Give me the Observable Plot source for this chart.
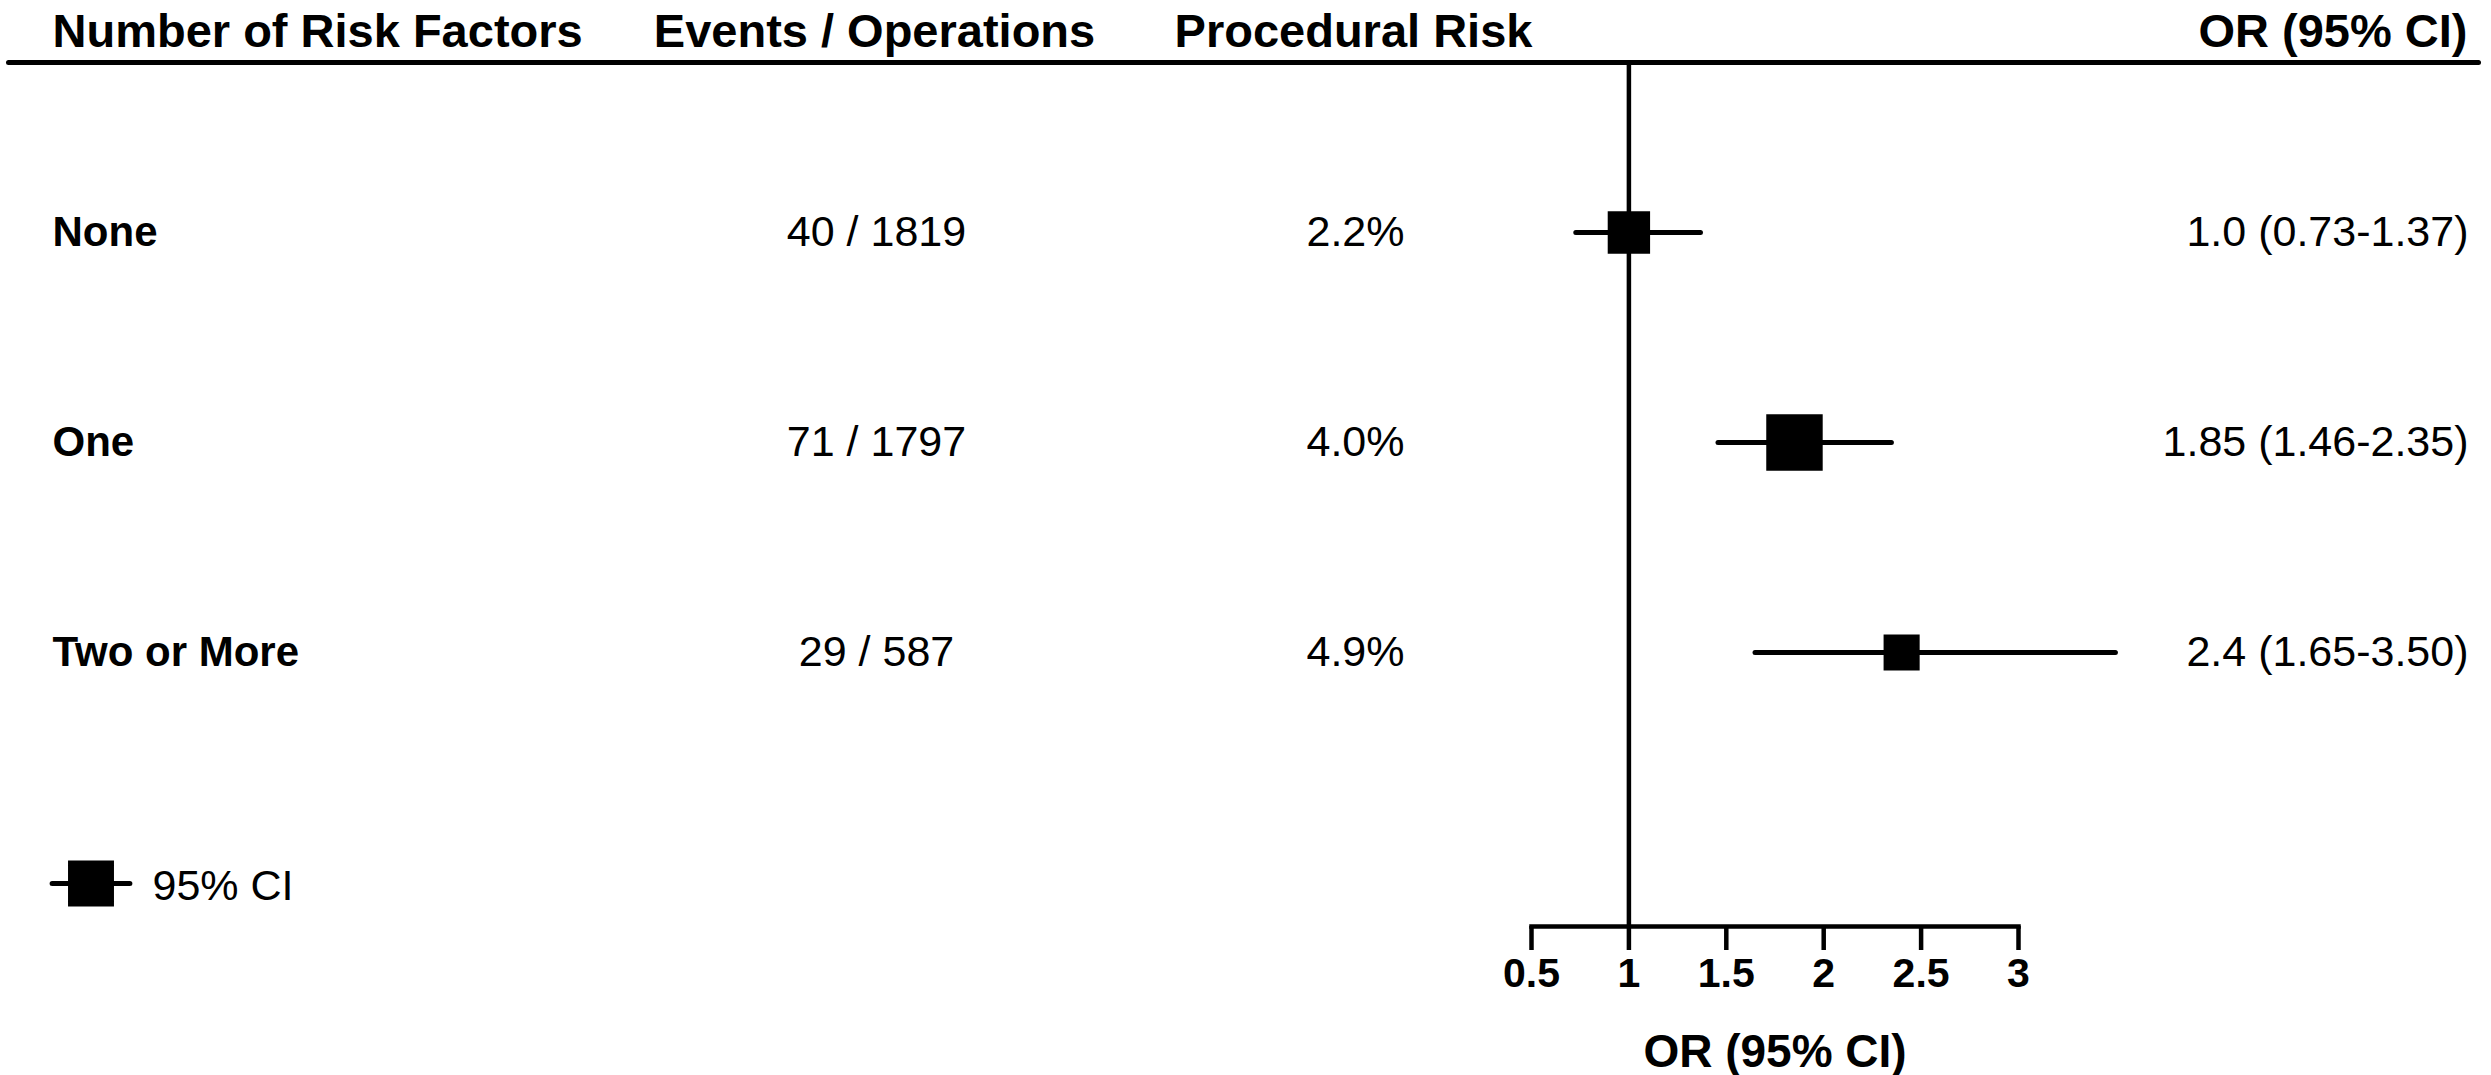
<!DOCTYPE html>
<html>
<head>
<meta charset="utf-8">
<script src="https://cdn.jsdelivr.net/npm/d3@7"></script>
<script src="https://cdn.jsdelivr.net/npm/@observablehq/plot@0.6"></script>
<style>
  html, body { margin: 0; padding: 0; background: #fff; }
  #chart { width: 2491px; height: 1075px; }
</style>
</head>
<body>
<div id="chart"></div>
<script>
// ---- data ----
const categories = ["None", "One", "Two or More"];
const events = [40, 71, 29];
const operations = [1819, 1797, 587];
const oddsRatio = [1.0, 1.85, 2.4];
const ciLow = [0.73, 1.46, 1.65];
const ciHigh = [1.37, 2.35, 3.50];
const orLabels = ["1.0 (0.73-1.37)", "1.85 (1.46-2.35)", "2.4 (1.65-3.50)"];
const headers = ["Number of Risk Factors", "Events / Operations", "Procedural Risk", "OR (95% CI)"];
const xTicks = [0.5, 1, 1.5, 2, 2.5, 3];
const axisTitle = "OR (95% CI)";
const legendLabel = "95% CI";

// ---- table built from arrays ----
const rows = categories.map((cat, i) => ({
  cat,
  events: events[i],
  ops: operations[i],
  or: oddsRatio[i],
  lo: ciLow[i],
  hi: ciHigh[i],
  orLabel: orLabels[i]
}));

// ---- layout ----
const W = 2491, H = 1075;
const mLeft = 8, mRight = 13, mTop = 62, mBottom = 149;
const xRange = [1531, 2018];
const font = "'Liberation Sans', Arial, Helvetica, sans-serif";

// legend glyph: square with a CI whisker through it
const ciSymbol = {
  draw(context, size) {
    const w = Math.sqrt(size), h = w / 2;
    context.moveTo(-h, -h); context.lineTo(h, -h); context.lineTo(h, h); context.lineTo(-h, h); context.closePath();
    context.moveTo(-w * 0.95, 0); context.lineTo(w * 0.95, 0);
  }
};

const chart = Plot.plot({
  width: W,
  height: H,
  marginLeft: mLeft,
  marginRight: mRight,
  marginTop: mTop,
  marginBottom: mBottom,
  style: { fontFamily: font, fontSize: "43px", color: "black", background: "white", overflow: "visible" },
  x: { domain: [xTicks[0], xTicks[xTicks.length - 1]], range: xRange },
  y: { type: "point", domain: categories, range: [231, 652], padding: 0, axis: null },
  r: { type: "sqrt", domain: [0, d3.max(events)], range: [0, 3.78 * Math.sqrt(d3.max(events))] },
  marks: [
    // header rule and axis line
    Plot.frame({ anchor: "top", strokeWidth: 5, strokeLinecap: "round" }),
    Plot.frame({ anchor: "bottom", strokeWidth: 4.5, insetLeft: xRange[0] - mLeft, insetRight: (W - mRight) - xRange[1] }),
    // headers
    Plot.text([headers[0]], { text: d => d, frameAnchor: "top-left", dx: 44, dy: -16, lineAnchor: "bottom", textAnchor: "start", fontSize: 47, fontWeight: "bold" }),
    Plot.text([headers[1]], { text: d => d, frameAnchor: "top-left", dx: 866, dy: -16, lineAnchor: "bottom", textAnchor: "middle", fontSize: 47, fontWeight: "bold" }),
    Plot.text([headers[2]], { text: d => d, frameAnchor: "top-left", dx: 1345, dy: -16, lineAnchor: "bottom", textAnchor: "middle", fontSize: 47, fontWeight: "bold" }),
    Plot.text([headers[3]], { text: d => d, frameAnchor: "top-right", dx: -11, dy: -16, lineAnchor: "bottom", textAnchor: "end", fontSize: 47, fontWeight: "bold" }),
    // row text columns
    Plot.text(rows, { y: "cat", text: "cat", frameAnchor: "left", dx: 44, textAnchor: "start", lineAnchor: "middle", fontSize: 42, fontWeight: "bold" }),
    Plot.text(rows, { y: "cat", text: d => `${d.events} / ${d.ops}`, frameAnchor: "left", dx: 868, textAnchor: "middle", lineAnchor: "middle", fontSize: 43 }),
    Plot.text(rows, { y: "cat", text: d => `${(d.events / d.ops * 100).toFixed(1)}%`, frameAnchor: "left", dx: 1347, textAnchor: "middle", lineAnchor: "middle", fontSize: 43 }),
    Plot.text(rows, { y: "cat", text: "orLabel", frameAnchor: "right", dx: -10, textAnchor: "end", lineAnchor: "middle", fontSize: 43 }),
    // confidence intervals
    Plot.ruleY(rows, { y: "cat", x1: "lo", x2: "hi", strokeWidth: 5, strokeLinecap: "round" }),
    // reference line at OR = 1
    Plot.ruleX([1], { strokeWidth: 4.5 }),
    // point estimates
    Plot.dot(rows, { x: "or", y: "cat", r: "events", symbol: "square", fill: "black" }),
    // x axis
    Plot.axisX({ ticks: xTicks, tickFormat: d => `${d}`, tickSize: 24, tickPadding: 7, strokeWidth: 4.5, fontSize: 41, fontWeight: "bold", label: null, anchor: "bottom" }),
    Plot.text([axisTitle], { x: () => (xTicks[0] + xTicks[xTicks.length - 1]) / 2, text: d => d, frameAnchor: "bottom", dy: 140, lineAnchor: "bottom", textAnchor: "middle", fontSize: 46, fontWeight: "bold" }),
    // legend
    Plot.dot([legendLabel], { frameAnchor: "top-left", dx: 82.5, dy: 821, symbol: ciSymbol, r: 23.1, fill: "black", stroke: "black", strokeWidth: 5, strokeLinecap: "round" }),
    Plot.text([legendLabel], { text: d => d, frameAnchor: "top-left", dx: 144, dy: 824, textAnchor: "start", lineAnchor: "middle", fontSize: 43 })
  ]
});

document.getElementById("chart").appendChild(chart);
</script>
</body>
</html>
